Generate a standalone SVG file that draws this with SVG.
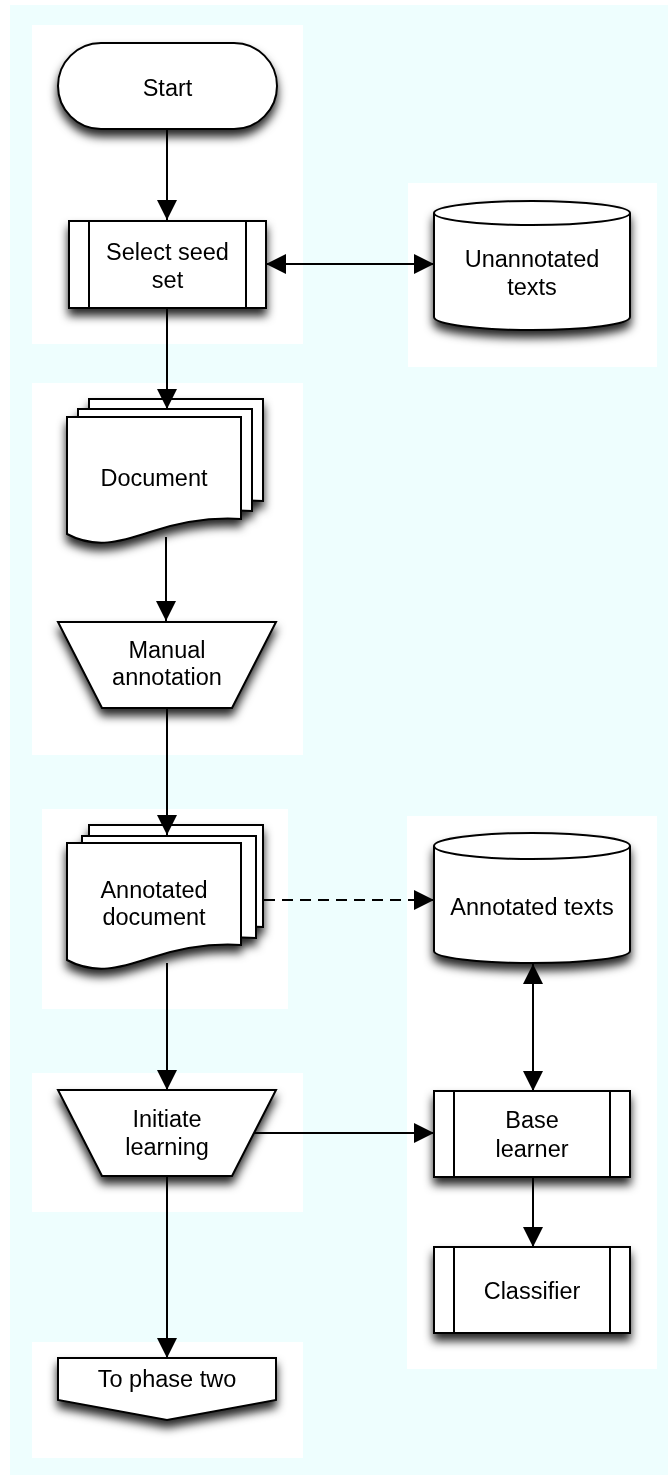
<svg xmlns="http://www.w3.org/2000/svg" width="668" height="1475" viewBox="0 0 668 1475">
  <style>
    .panel { fill: #ffffff; }
    .shape { fill: #ffffff; stroke: #000000; stroke-width: 2; stroke-linejoin: miter; }
    .rule { fill: none; stroke: #000000; stroke-width: 2; }
    .label { font-family: "Liberation Sans", Arial, Helvetica, sans-serif; font-size: 23.5px; fill: #000000; text-anchor: middle; }
    .edge { fill: none; stroke: #000000; stroke-width: 2; }
    .dashed { stroke-dasharray: 11 7; }
  </style>
  <defs>
    <filter id="shadow" x="-20%" y="-20%" width="140%" height="160%">
      <feDropShadow dx="0" dy="7" stdDeviation="5" flood-color="#000000" flood-opacity="0.85"/>
    </filter>
    <marker id="arrow" viewBox="0 0 20 20" markerUnits="userSpaceOnUse" markerWidth="20" markerHeight="20" refX="20" refY="10" orient="auto-start-reverse">
      <path d="M0,0 L20,10 L0,20 Z" fill="#000000"/>
    </marker>
  </defs>

  <!-- canvas -->
  <rect x="0" y="0" width="668" height="1475" fill="#ffffff"/>
  <rect x="10" y="5" width="658" height="1470" fill="#eefefe"/>

  <!-- swimlane panels -->
  <g id="panels">
    <rect class="panel" x="32" y="25" width="271" height="319"/>
    <rect class="panel" x="408" y="183" width="249" height="184"/>
    <rect class="panel" x="32" y="383" width="271" height="372"/>
    <rect class="panel" x="42" y="809" width="246" height="200"/>
    <rect class="panel" x="32" y="1073" width="271" height="139"/>
    <rect class="panel" x="32" y="1342" width="271" height="116"/>
    <rect class="panel" x="407" y="816" width="250" height="553"/>
  </g>

  <!-- Start terminator -->
  <g id="start" filter="url(#shadow)">
    <rect class="shape" x="58" y="43" width="219" height="86" rx="43" ry="43"/>
    <text class="label" x="167.5" y="96">Start</text>
  </g>

  <!-- Select seed set (predefined process) -->
  <g id="select-seed-set" filter="url(#shadow)">
    <rect class="shape" x="69" y="221" width="197" height="87"/>
    <line class="rule" x1="89" y1="221" x2="89" y2="308"/>
    <line class="rule" x1="246" y1="221" x2="246" y2="308"/>
    <text class="label" x="167.5" y="259.5">Select seed</text>
    <text class="label" x="167.5" y="288">set</text>
  </g>

  <!-- Unannotated texts (database) -->
  <g id="unannotated-texts" filter="url(#shadow)">
    <path class="shape" d="M434,213 A98,12 0 0 1 630,213 V317 A98,13 0 0 1 434,317 Z"/>
    <path class="rule" d="M434,213 A98,12 0 0 0 630,213"/>
    <text class="label" x="532" y="267">Unannotated</text>
    <text class="label" x="532" y="295">texts</text>
  </g>

  <!-- Document (stacked documents) -->
  <g id="document" filter="url(#shadow)">
    <path class="shape" d="M89,399 H263 V501 C232,499 202,504 172,514 C142,524 117,531 89,516 Z"/>
    <path class="shape" d="M78,409 H252 V511 C221,509 191,514 161,524 C131,534 106,541 78,526 Z"/>
    <path class="shape" d="M67,417 H241 V519 C210,517 180,522 150,532 C120,542 95,549 67,534 Z"/>
    <text class="label" x="154" y="486">Document</text>
  </g>

  <!-- Manual annotation (manual operation) -->
  <g id="manual-annotation" filter="url(#shadow)">
    <path class="shape" d="M58,622 H276 L232,708 H102 Z"/>
    <text class="label" x="167" y="658">Manual</text>
    <text class="label" x="167" y="685">annotation</text>
  </g>

  <!-- Annotated document (stacked documents) -->
  <g id="annotated-document" filter="url(#shadow)">
    <path class="shape" d="M89,825 H263 V927 C232,925 202,930 172,940 C142,950 117,957 89,942 Z"/>
    <path class="shape" d="M82,836 H256 V938 C225,936 195,941 165,951 C135,961 110,968 82,953 Z"/>
    <path class="shape" d="M67,843 H241 V945 C210,943 180,948 150,958 C120,968 95,975 67,960 Z"/>
    <text class="label" x="154" y="898">Annotated</text>
    <text class="label" x="154" y="925">document</text>
  </g>

  <!-- Annotated texts (database) -->
  <g id="annotated-texts" filter="url(#shadow)">
    <path class="shape" d="M434,846 A98,13 0 0 1 630,846 V951 A98,12 0 0 1 434,951 Z"/>
    <path class="rule" d="M434,846 A98,13 0 0 0 630,846"/>
    <text class="label" x="532" y="915">Annotated texts</text>
  </g>

  <!-- Initiate learning (manual operation) -->
  <g id="initiate-learning" filter="url(#shadow)">
    <path class="shape" d="M58,1090 H276 L232,1176 H102 Z"/>
    <text class="label" x="167" y="1127">Initiate</text>
    <text class="label" x="167" y="1155">learning</text>
  </g>

  <!-- Base learner (predefined process) -->
  <g id="base-learner" filter="url(#shadow)">
    <rect class="shape" x="434" y="1091" width="196" height="86"/>
    <line class="rule" x1="454" y1="1091" x2="454" y2="1177"/>
    <line class="rule" x1="610" y1="1091" x2="610" y2="1177"/>
    <text class="label" x="532" y="1128">Base</text>
    <text class="label" x="532" y="1157">learner</text>
  </g>

  <!-- Classifier (predefined process) -->
  <g id="classifier" filter="url(#shadow)">
    <rect class="shape" x="434" y="1247" width="196" height="86"/>
    <line class="rule" x1="454" y1="1247" x2="454" y2="1333"/>
    <line class="rule" x1="610" y1="1247" x2="610" y2="1333"/>
    <text class="label" x="532" y="1299">Classifier</text>
  </g>

  <!-- To phase two (off-page connector) -->
  <g id="to-phase-two" filter="url(#shadow)">
    <path class="shape" d="M58,1358 H276 V1400 L167,1420 L58,1400 Z"/>
    <text class="label" x="167" y="1387">To phase two</text>
  </g>

  <!-- connectors, drawn over the nodes -->
  <g id="connectors">
    <line class="edge" x1="167" y1="129" x2="167" y2="220" marker-end="url(#arrow)"/>
    <line class="edge" x1="266" y1="264" x2="434" y2="264" marker-start="url(#arrow)" marker-end="url(#arrow)"/>
    <line class="edge" x1="167" y1="308" x2="167" y2="409" marker-end="url(#arrow)"/>
    <line class="edge" x1="166" y1="537" x2="166" y2="621" marker-end="url(#arrow)"/>
    <line class="edge" x1="167" y1="708" x2="167" y2="835" marker-end="url(#arrow)"/>
    <line class="edge dashed" x1="264" y1="900" x2="434" y2="900" marker-end="url(#arrow)"/>
    <line class="edge" x1="167" y1="963" x2="167" y2="1090" marker-end="url(#arrow)"/>
    <line class="edge" x1="254" y1="1133" x2="434" y2="1133" marker-end="url(#arrow)"/>
    <line class="edge" x1="533" y1="964" x2="533" y2="1091" marker-start="url(#arrow)" marker-end="url(#arrow)"/>
    <line class="edge" x1="533" y1="1177" x2="533" y2="1247" marker-end="url(#arrow)"/>
    <line class="edge" x1="167" y1="1176" x2="167" y2="1358" marker-end="url(#arrow)"/>
  </g>
</svg>
